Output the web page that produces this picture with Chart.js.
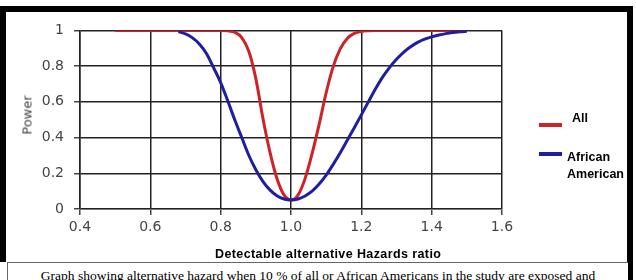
<!DOCTYPE html>
<html>
<head>
<meta charset="utf-8">
<script src="https://cdn.jsdelivr.net/npm/chart.js@4/dist/chart.umd.min.js"></script>
<style>
  body { margin:0; background:#fff; width:636px; height:280px; overflow:hidden; position:relative; }
  .bar { position:absolute; background:#000; }
  #chart { position:absolute; left:6px; top:12px; }
  .txt { position:absolute; white-space:nowrap; }
  .leg { font:bold 12.5px "Liberation Sans", Arial, sans-serif; color:#000; line-height:12.5px; }
  .swatch { position:absolute; width:23px; height:4px; }
  #caption { position:absolute; left:7px; top:262px; width:620px; height:30px; background:#fff;
    border-top:1px solid #666; border-left:1px solid #666; text-align:center;
    font:13.5px "Liberation Serif", "Times New Roman", serif; line-height:15px; padding-top:5px; color:#000; }
</style>
</head>
<body>
<div class="bar" style="left:0;top:6px;width:633px;height:6px"></div>
<div class="bar" style="left:0;top:6px;width:6px;height:256px"></div>
<div class="bar" style="left:627px;top:6px;width:6px;height:274px"></div>

<canvas id="chart" width="620" height="250"></canvas>

<div class="txt" style="left:27px;top:115px;transform:translate(-50%,-50%) rotate(-90deg);font:13px 'DejaVu Sans',sans-serif;color:#444">Power</div>
<div class="txt" style="left:215px;top:248px;font:bold 12.5px 'Liberation Sans',Arial,sans-serif;letter-spacing:0.4px;line-height:12.5px">Detectable alternative Hazards ratio</div>

<div class="swatch" style="left:539px;top:123px;background:#cc2228"></div>
<div class="txt leg" style="left:572px;top:112px">All</div>
<div class="swatch" style="left:539px;top:152px;background:#1e1e9e"></div>
<div class="txt leg" style="left:567px;top:151px">African</div>
<div class="txt leg" style="left:567px;top:168px">American</div>

<div id="caption">Graph showing alternative hazard when 10 % of all or African Americans in the study are exposed and</div>

<script>
// hazard ratio grid (x)
var hazardRatio = [0.50,0.52,0.54,0.56,0.58,0.60,0.62,0.64,0.66,0.68,
  0.70,0.72,0.74,0.76,0.78,0.80,0.82,0.84,0.86,0.88,
  0.90,0.92,0.94,0.96,0.98,1.00,1.02,1.04,1.06,1.08,
  1.10,1.12,1.14,1.16,1.18,1.20,1.22,1.24,1.26,1.28,
  1.30,1.32,1.34,1.36,1.38,1.40,1.42,1.44,1.46,1.48,1.50];

// power, all participants (red)
var powerAll = [1,1,1,1,1,1,1,1,1,1,
  1,1,1,1,1,1.000,0.998,0.990,0.960,0.883,
  0.730,0.510,0.320,0.171,0.079,0.050,0.078,0.170,0.310,0.474,
  0.651,0.797,0.897,0.955,0.983,0.994,0.998,1,1,1,
  1,1,1,1,1,1,1,1,1,1,1];

// power, African American (blue)
var powerAfrican = [null,null,null,null,null,null,null,null,null,0.993,
  0.980,0.958,0.923,0.869,0.790,0.708,0.606,0.500,0.400,0.301,
  0.220,0.155,0.107,0.074,0.056,0.050,0.056,0.073,0.100,0.140,
  0.190,0.250,0.315,0.385,0.455,0.527,0.600,0.672,0.737,0.792,
  0.838,0.877,0.908,0.933,0.951,0.964,0.974,0.982,0.988,0.992,0.995];

var xTicks = [0.4,0.6,0.8,1.0,1.2,1.4,1.6];
var yTicks = [0,0.2,0.4,0.6,0.8,1];

function pairs(xs, ys){
  return xs.map(function(x,i){ return {x:x, y:ys[i]}; });
}

var tickFont = { family:"'DejaVu Sans', sans-serif", size:14 };

new Chart(document.getElementById("chart"), {
  type: "line",
  data: {
    datasets: [
      { label:"All", data:pairs(hazardRatio,powerAll), borderColor:"#cc2228",
        borderWidth:3, pointRadius:0, cubicInterpolationMode:"monotone", order:1 },
      { label:"African American", data:pairs(hazardRatio,powerAfrican), borderColor:"#1e1e9e",
        borderWidth:3, pointRadius:0, cubicInterpolationMode:"monotone", spanGaps:false, order:0 }
    ]
  },
  options: {
    responsive:false,
    animation:false,
    devicePixelRatio:1,
    layout:{ padding:{ left:0, top:8, right:124, bottom:0 } },
    plugins:{ legend:{ display:false }, tooltip:{ enabled:false } },
    scales:{
      x:{
        type:"linear", min:xTicks[0], max:xTicks[xTicks.length-1],
        afterBuildTicks:function(s){ s.ticks = xTicks.map(function(v){ return {value:v}; }); },
        afterFit:function(s){ s.height = 53; },
        ticks:{ font:tickFont, color:"#444", padding:4, maxRotation:0,
          callback:function(v){ return Number(v).toFixed(1); } },
        grid:{ color:"#222", lineWidth:1.5, tickLength:6, tickColor:"#444" },
        border:{ color:"#777", width:1 }
      },
      y:{
        min:yTicks[0], max:yTicks[yTicks.length-1],
        afterBuildTicks:function(s){ s.ticks = yTicks.map(function(v){ return {value:v}; }); },
        afterFit:function(s){ s.width = 74; },
        ticks:{ font:tickFont, color:"#444", padding:10,
          callback:function(v){ return String(v); } },
        grid:{ color:"#222", lineWidth:1.5, tickLength:6, tickColor:"#444" },
        border:{ color:"#222", width:1.5 }
      }
    }
  }
});
</script>
</body>
</html>
